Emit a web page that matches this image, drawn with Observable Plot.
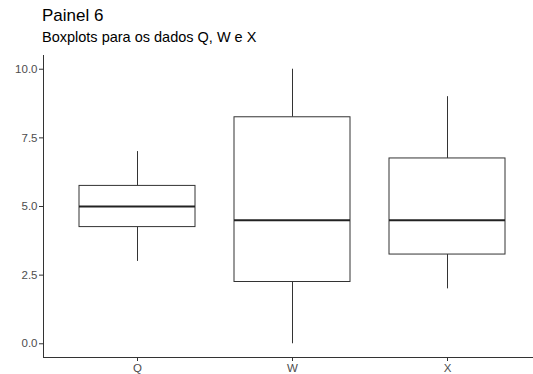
<!DOCTYPE html>
<html>
<head>
<meta charset="utf-8">
<script src="https://cdn.jsdelivr.net/npm/d3@7"></script>
<script src="https://cdn.jsdelivr.net/npm/@observablehq/plot@0.6"></script>
<style>
  body { margin: 0; background: #fff; font-family: "Liberation Sans", Arial, sans-serif; }
  #wrap { position: relative; width: 533px; height: 374px; overflow: hidden; }
  #title { position: absolute; left: 42px; top: 6px; font-size: 17px; line-height: 20px; color: #000; white-space: nowrap; }
  #subtitle { position: absolute; left: 42px; top: 29px; font-size: 14.5px; line-height: 17px; color: #000; white-space: nowrap; }
  #chart { position: absolute; left: 0; top: 50px; }
  #chart svg text { fill: #4d4d4d; }
</style>
</head>
<body>
<div id="wrap">
  <div id="title">Painel 6</div>
  <div id="subtitle">Boxplots para os dados Q, W e X</div>
  <div id="chart"></div>
</div>
<script>
const categories = ["Q", "W", "X"];
const mins    = [3, 0, 2];
const q1s     = [4.25, 2.25, 3.25];
const medians = [5, 4.5, 4.5];
const q3s     = [5.75, 8.25, 6.75];
const maxs    = [7, 10, 9];
const yTicks = [0, 2.5, 5, 7.5, 10];
const yTickLabels = ["0.0", "2.5", "5.0", "7.5", "10.0"];

const data = categories.map((c, i) => ({
  cat: c, min: mins[i], q1: q1s[i], median: medians[i], q3: q3s[i], max: maxs[i]
}));

const chart = Plot.plot({
  width: 533,
  height: 324,
  marginLeft: 43,
  marginRight: 0,
  marginTop: 5,
  marginBottom: 17,
  style: { fontFamily: "Liberation Sans, Arial, sans-serif", fontSize: "11.5px", color: "#333", background: "transparent" },
  x: {
    type: "band",
    domain: categories,
    range: [43, 542],
    paddingInner: 0.25,
    paddingOuter: 0.225,
    align: 0.5,
    label: null,
    tickSize: 4,
    tickPadding: 2,
    line: true
  },
  y: {
    domain: [-0.5, 10.5],
    range: [307, 5],
    ticks: yTicks,
    tickFormat: (d) => yTickLabels[yTicks.indexOf(d)],
    tickSize: 4,
    tickPadding: 2,
    label: null,
    line: true
  },
  marks: [
    Plot.ruleX(data, { x: "cat", y1: "min", y2: "q1", stroke: "#333", strokeWidth: 1 }),
    Plot.ruleX(data, { x: "cat", y1: "q3", y2: "max", stroke: "#333", strokeWidth: 1 }),
    Plot.barY(data, { x: "cat", y1: "q1", y2: "q3", fill: "white", stroke: "#333", strokeWidth: 1 }),
    Plot.tickY(data, { x: "cat", y: "median", stroke: "#222", strokeWidth: 2.2 })
  ]
});
document.getElementById("chart").appendChild(chart);
</script>
</body>
</html>
